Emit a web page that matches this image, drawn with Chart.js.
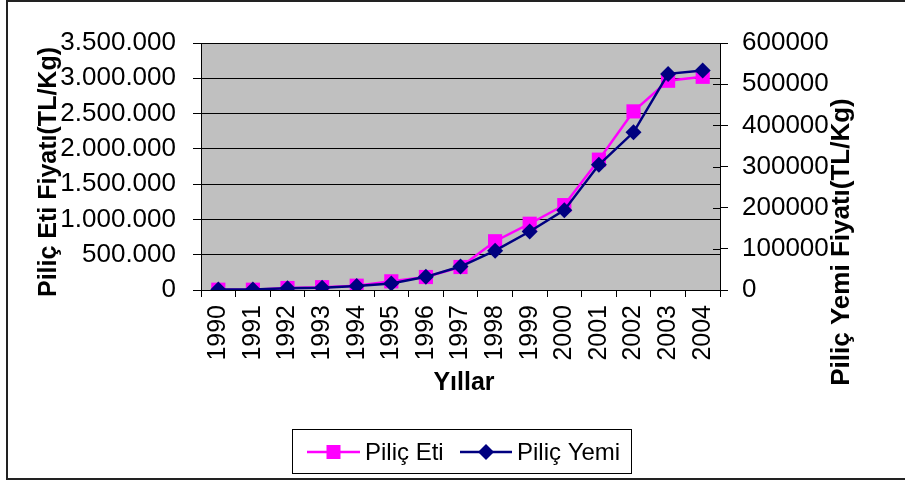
<!DOCTYPE html>
<html>
<head>
<meta charset="utf-8">
<script src="https://cdn.jsdelivr.net/npm/chart.js@4.4.0/dist/chart.umd.min.js"></script>
<style>
  html, body { margin: 0; padding: 0; background: #fff; }
  #wrap { width: 905px; height: 481px; position: relative; }
</style>
</head>
<body>
<div id="wrap"><canvas id="chart" width="905" height="481"></canvas></div>
<script>
// data
const years = ['1990', '1991', '1992', '1993', '1994', '1995', '1996', '1997', '1998', '1999', '2000', '2001', '2002', '2003', '2004'];
const etiPrices = [4000, 4000, 28000, 40000, 61000, 123000, 184000, 326000, 691000, 939000, 1203000, 1847000, 2531000, 2965000, 3021000];
const yemPrices = [1500, 1500, 4000, 5600, 9700, 16000, 32000, 57000, 95500, 142000, 194000, 304000, 383000, 525000, 533000];
const leftTicks = [0, 500000, 1000000, 1500000, 2000000, 2500000, 3000000, 3500000];
const rightTicks = [0, 100000, 200000, 300000, 400000, 500000, 600000];

const FONT = '"Liberation Sans", Arial, sans-serif';

// dotted thousands, like 3.500.000
function dots(v) {
    return String(v).replace(/\B(?=(\d{3})+(?!\d))/g, '.');
}

// page frame, gray plot background, titles, legend
const decorations = {
    id: 'decorations',
    beforeDraw(chart) {
        const ctx = chart.ctx;
        const a = chart.chartArea;
        ctx.save();
        ctx.fillStyle = '#fff';
        ctx.fillRect(0, 0, chart.width, chart.height);
        ctx.fillStyle = '#c0c0c0';
        ctx.fillRect(a.left, a.top, a.right - a.left, a.bottom - a.top);
        // outer frame
        ctx.strokeStyle = '#222';
        ctx.lineWidth = 2;
        ctx.beginPath();
        ctx.moveTo(905, 1);
        ctx.lineTo(7, 1);
        ctx.lineTo(7, 479);
        ctx.lineTo(905, 479);
        ctx.stroke();
        ctx.restore();
    },
    afterDraw(chart) {
        const ctx = chart.ctx;
        const a = chart.chartArea;
        ctx.save();
        // right axis ticks cross into the plot
        const r = chart.scales.y1;
        ctx.strokeStyle = '#000';
        ctx.lineWidth = 1;
        rightTicks.forEach((v) => {
            const y = Math.round(r.getPixelForValue(v)) + 0.5;
            ctx.beginPath();
            ctx.moveTo(a.right - 7, y);
            ctx.lineTo(a.right, y);
            ctx.stroke();
        });

        // axis titles
        ctx.fillStyle = '#000';
        ctx.textAlign = 'center';
        ctx.textBaseline = 'middle';
        ctx.font = 'bold 25px ' + FONT;
        ctx.fillText('Yıllar', 464, 383);

        ctx.save();
        ctx.translate(49, 172);
        ctx.rotate(-Math.PI / 2);
        ctx.fillText('Piliç Eti Fiyatı(TL/Kg)', 0, 0);
        ctx.restore();

        ctx.font = 'bold 26px ' + FONT;
        ctx.save();
        ctx.translate(842, 242);
        ctx.rotate(-Math.PI / 2);
        ctx.fillText('Piliç Yemi Fiyatı(TL/Kg)', 0, 0);
        ctx.restore();

        // legend
        ctx.strokeStyle = '#000';
        ctx.lineWidth = 1;
        ctx.strokeRect(292.5, 429.5, 339, 44);
        const items = [
            { ds: chart.data.datasets[0], x0: 307, x1: 360, tx: 365 },
            { ds: chart.data.datasets[1], x0: 460, x1: 512, tx: 517 },
        ];
        const ly = 452;
        items.forEach((it) => {
            const ds = it.ds;
            ctx.strokeStyle = ds.borderColor;
            ctx.lineWidth = 2.5;
            ctx.beginPath();
            ctx.moveTo(it.x0, ly);
            ctx.lineTo(it.x1, ly);
            ctx.stroke();
            const cx = (it.x0 + it.x1) / 2;
            ctx.fillStyle = ds.pointBackgroundColor;
            ctx.beginPath();
            if (ds.pointStyle === 'rect') {
                ctx.rect(cx - 7, ly - 7, 14, 14);
            } else {
                ctx.moveTo(cx, ly - 8);
                ctx.lineTo(cx + 8, ly);
                ctx.lineTo(cx, ly + 8);
                ctx.lineTo(cx - 8, ly);
                ctx.closePath();
            }
            ctx.fill();
            ctx.fillStyle = '#000';
            ctx.font = '24px ' + FONT;
            ctx.textAlign = 'left';
            ctx.fillText(ds.label, it.tx, ly + 1);
        });
        ctx.restore();
    },
};

new Chart(document.getElementById('chart'), {
    type: 'line',
    data: {
        labels: years,
        datasets: [
            {
                label: 'Piliç Eti',
                data: etiPrices,
                yAxisID: 'y',
                borderColor: '#ff00ff',
                backgroundColor: '#ff00ff',
                pointBackgroundColor: '#ff00ff',
                pointBorderColor: '#ff00ff',
                pointStyle: 'rect',
                pointRadius: 10,
                pointBorderWidth: 0,
                borderWidth: 2.5,
                tension: 0,
                order: 1,
            },
            {
                label: 'Piliç Yemi',
                data: yemPrices,
                yAxisID: 'y1',
                borderColor: '#000080',
                backgroundColor: '#000080',
                pointBackgroundColor: '#000080',
                pointBorderColor: '#000080',
                pointStyle: 'rectRot',
                pointRadius: 8,
                pointBorderWidth: 0,
                borderWidth: 2.5,
                tension: 0,
                order: 0,
            },
        ],
    },
    options: {
        responsive: false,
        animation: false,
        layout: { padding: { top: 43, left: 0, right: 0, bottom: 0 } },
        plugins: {
            legend: { display: false },
            tooltip: { enabled: false },
        },
        scales: {
            x: {
                type: 'category',
                offset: true,
                afterFit: (s) => { s.height = 191; },
                grid: {
                    offset: true,
                    drawOnChartArea: false,
                    color: '#000',
                    tickLength: 7,
                },
                border: { color: '#000', width: 1 },
                ticks: {
                    color: '#000',
                    font: { family: FONT, size: 25 },
                    maxRotation: 90,
                    minRotation: 90,
                    autoSkip: false,
                    padding: 8,
                },
            },
            y: {
                position: 'left',
                min: 0,
                max: 3500000,
                afterFit: (s) => { s.width = 201; },
                afterBuildTicks: (s) => { s.ticks = leftTicks.map((v) => ({ value: v })); },
                grid: { color: '#000', tickLength: 8 },
                border: { color: '#000', width: 1 },
                ticks: {
                    color: '#000',
                    font: { family: FONT, size: 26 },
                    padding: 17,
                    callback: (v) => dots(v),
                },
            },
            y1: {
                position: 'right',
                min: 0,
                max: 600000,
                afterFit: (s) => { s.width = 185; },
                afterBuildTicks: (s) => { s.ticks = rightTicks.map((v) => ({ value: v })); },
                grid: { drawOnChartArea: false, color: '#000', tickLength: 8 },
                border: { color: '#000', width: 1 },
                ticks: {
                    color: '#000',
                    font: { family: FONT, size: 26 },
                    padding: 14,
                    callback: (v) => String(v),
                },
            },
        },
    },
    plugins: [decorations],
});
</script>
</body>
</html>
